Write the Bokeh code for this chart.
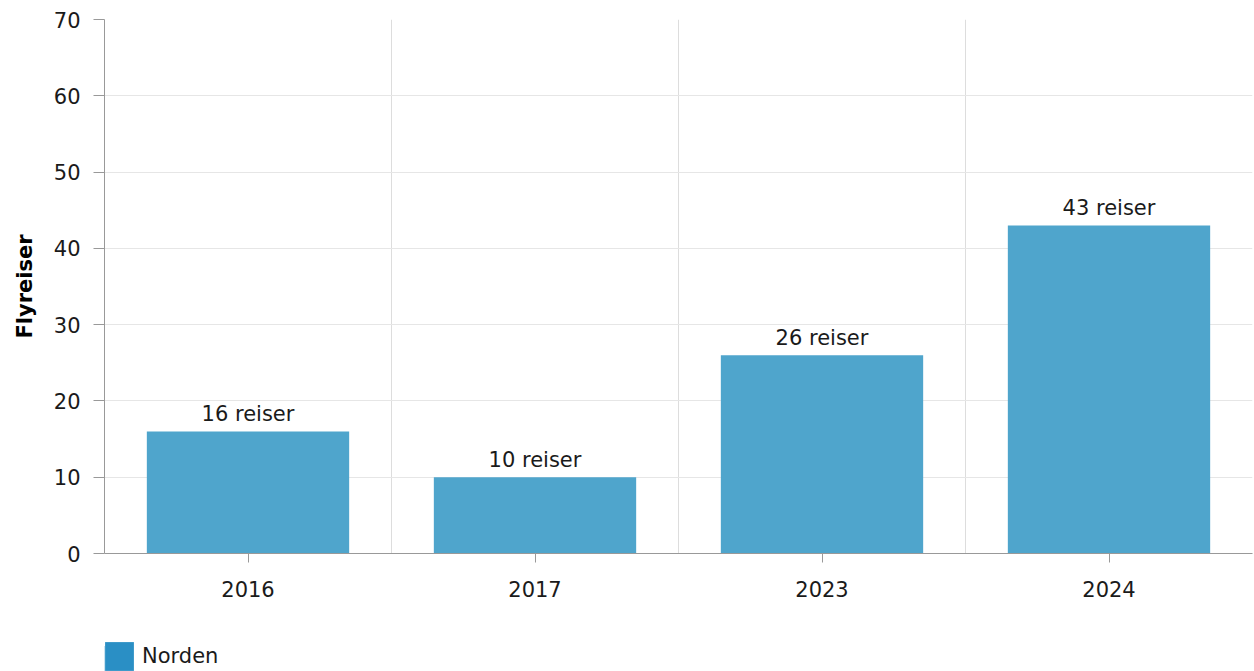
from bokeh.plotting import figure
from bokeh.models import (ColumnDataSource, FixedTicker, Legend, LegendItem, Range1d,
                          LabelSet)
from bokeh.layouts import column
from bokeh.core.properties import value
from bokeh.embed import file_html
from bokeh.resources import INLINE

years = ["2016", "2017", "2023", "2024"]
trips = [16, 10, 26, 43]
labels = [f"{v} reiser" for v in trips]
series_name = "Norden"
y_ticks = [0, 10, 20, 30, 40, 50, 60, 70]

FONT = "DejaVu Sans"
FS = "21px"
W = 1254
xs = [i + 0.5 for i in range(len(years))]
src = ColumnDataSource(dict(x=xs, top=trips, label=labels))

p = figure(width=W, height=620, output_backend="svg", toolbar_location=None,
           x_range=Range1d(0, len(years)), y_range=Range1d(0, 70),
           min_border_left=104, min_border_top=19, min_border_right=2, min_border_bottom=67)
p.outline_line_color = None
p.background_fill_color = "white"

bars = p.vbar(x="x", top="top", width=0.705, source=src, fill_color="#4fa5cc",
              line_color=None)

# y axis
p.yaxis.ticker = FixedTicker(ticks=y_ticks)
p.yaxis.axis_label = "Flyreiser"
p.yaxis.axis_label_text_font = FONT
p.yaxis.axis_label_text_font_style = "bold"
p.yaxis.axis_label_text_font_size = "21px"
p.yaxis.axis_label_text_color = "#000000"
p.yaxis.axis_label_standoff = 14
p.yaxis.major_label_text_font = FONT
p.yaxis.major_label_text_font_size = FS
p.yaxis.major_label_text_color = "#1a1a1a"
p.yaxis.axis_line_color = "#999999"
p.yaxis.major_tick_line_color = "#999999"
p.yaxis.major_tick_out = 11
p.yaxis.major_tick_in = 0
p.yaxis.minor_tick_line_color = None
p.yaxis.major_label_standoff = 13

# x axis
p.xaxis.ticker = FixedTicker(ticks=xs)
p.xaxis.major_label_overrides = {x: y for x, y in zip(xs, years)}
p.xaxis.major_label_text_font = FONT
p.xaxis.major_label_text_font_size = FS
p.xaxis.major_label_text_color = "#1a1a1a"
p.xaxis.axis_line_color = "#999999"
p.xaxis.major_tick_line_color = "#999999"
p.xaxis.major_tick_out = 9
p.xaxis.major_tick_in = 0
p.xaxis.minor_tick_line_color = None
p.xaxis.major_label_standoff = 18

# grids
p.ygrid.ticker = FixedTicker(ticks=y_ticks)
p.ygrid.grid_line_color = "#e6e6e6"
p.xgrid.ticker = FixedTicker(ticks=[1, 2, 3, 4])
p.xgrid.grid_line_color = "#dddddd"

# value labels
lbl = LabelSet(x="x", y="top", text="label", source=src, text_align="center",
               text_baseline="alphabetic", y_offset=10, text_font=value(FONT),
               text_font_size=value(FS), text_color="#1a1a1a")
p.add_layout(lbl)

# legend figure
lf = figure(width=W, height=51, output_backend="svg", toolbar_location=None,
            x_range=Range1d(0, 1), y_range=Range1d(0, 1),
            min_border_left=104, min_border_top=0, min_border_right=2, min_border_bottom=0)
lf.axis.visible = False
lf.grid.visible = False
lf.outline_line_color = None
lf.background_fill_color = None
lf.border_fill_color = None
swatch = lf.vbar(x=[-10], top=[0.5], width=0.1, fill_color="#2a8fc5", line_color=None)
legend = Legend(items=[LegendItem(label=series_name, renderers=[swatch])],
                location=(-3, -3), orientation="horizontal",
                glyph_width=36, glyph_height=36, padding=0, margin=0,
                label_text_font=FONT, label_text_font_size=FS,
                label_text_color="#1a1a1a", label_standoff=5,
                border_line_color=None, background_fill_alpha=0)
lf.add_layout(legend, "center")

layout = column(p, lf, spacing=0)
open("out.html", "w").write(file_html(layout, INLINE))
